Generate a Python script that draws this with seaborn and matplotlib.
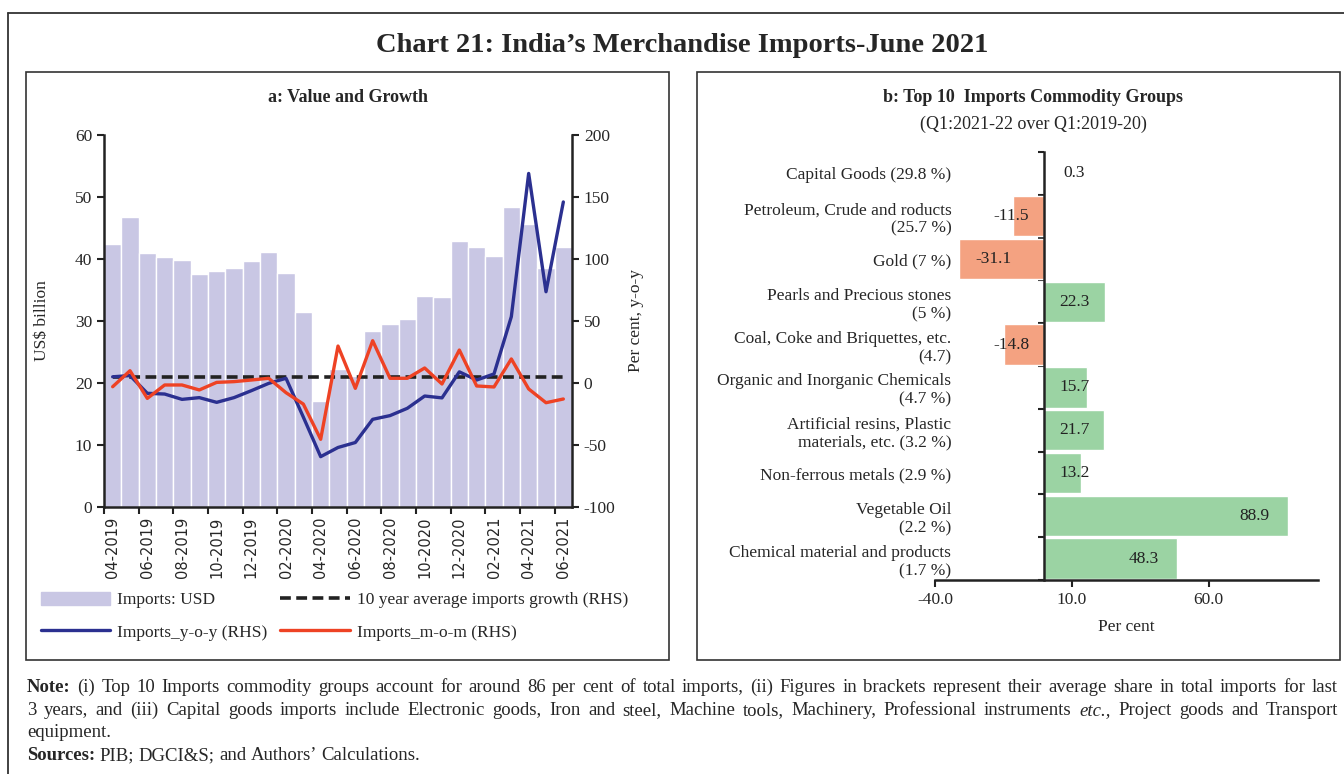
import numpy as np
import pandas as pd
import matplotlib.pyplot as plt
import matplotlib.patches as mpatches
import matplotlib.lines as mlines
import seaborn as sns

# ---- data: panel a (monthly imports) ----
months = ['04-2019', '05-2019', '06-2019', '07-2019', '08-2019', '09-2019', '10-2019',
          '11-2019', '12-2019', '01-2020', '02-2020', '03-2020', '04-2020', '05-2020',
          '06-2020', '07-2020', '08-2020', '09-2020', '10-2020', '11-2020', '12-2020',
          '01-2021', '02-2021', '03-2021', '04-2021', '05-2021', '06-2021']
imports_usd = [42.4, 46.7, 41.0, 40.4, 39.8, 37.6, 38.0, 38.5, 39.6, 41.1, 37.8, 31.4, 17.1,
               22.3, 21.1, 28.4, 29.5, 30.3, 34.1, 33.8, 42.9, 41.9, 40.5, 48.4, 45.7, 38.5, 41.9]
yoy_growth = [5.0, 6.0, -8.3, -8.9, -13.2, -11.8, -15.6, -11.8, -6.2, -0.3, 3.8, -27.5, -59.4,
              -52.0, -48.0, -29.3, -26.3, -20.4, -10.5, -12.0, 9.0, 2.4, 7.3, 53.5, 169.0, 73.6, 146.0]
mom_growth = [-3.0, 9.9, -12.4, -1.6, -1.6, -5.6, 0.5, 1.1, 2.4, 3.8, -7.8, -17.0, -45.4,
              29.8, -4.3, 34.1, 3.8, 3.8, 12.1, -0.8, 26.6, -2.4, -3.2, 19.4, -4.8, -15.9, -12.9]
avg_growth = 5.0

# ---- data: panel b (top 10 commodity groups) ----
commodities = ['Capital Goods (29.8 %)',
               'Petroleum, Crude and roducts\n(25.7 %)',
               'Gold (7 %)',
               'Pearls and Precious stones\n(5 %)',
               'Coal, Coke and Briquettes, etc.\n(4.7)',
               'Organic and Inorganic Chemicals\n(4.7 %)',
               'Artificial resins, Plastic\nmaterials, etc. (3.2 %)',
               'Non-ferrous metals (2.9 %)',
               'Vegetable Oil\n(2.2 %)',
               'Chemical material and products\n(1.7 %)']
change_pct = [0.3, -11.5, -31.1, 22.3, -14.8, 15.7, 21.7, 13.2, 88.9, 48.3]
xticks_b = [-40.0, 10.0, 60.0]

lav = '#C9C7E4'
blue = '#2B3090'
red = '#EE4224'
salmon = '#F4A281'
green = '#9BD3A3'

sns.set_theme(style='ticks')
plt.rcParams['font.family'] = ['Liberation Serif', 'DejaVu Serif']
plt.rcParams['axes.unicode_minus'] = False

W, H = 1344, 774
fig = plt.figure(figsize=(W / 100, H / 100), dpi=100)


def fx(x):
    return x / W


def fy(y):
    return 1 - y / H


# frames
fig.add_artist(mlines.Line2D([fx(8), fx(8)], [fy(13), 0], color='#333333', lw=1.3))
fig.add_artist(mlines.Line2D([fx(8), 1], [fy(13), fy(13)], color='#333333', lw=1.3))
for x0, x1 in [(26, 669), (697, 1340)]:
    fig.add_artist(mpatches.Rectangle((fx(x0), fy(660)), fx(x1) - fx(x0), fy(72) - fy(660),
                                      fill=False, ec='#333333', lw=1.2))

fig.text(fx(682), fy(46), 'Chart 21: India\u2019s Merchandise Imports-June 2021',
         ha='center', va='center', fontsize=20.5, fontweight='bold')

# ---------- panel a ----------
df_a = pd.DataFrame({'month': months, 'usd': imports_usd, 'yoy': yoy_growth, 'mom': mom_growth})
df_a['pos'] = np.arange(len(df_a))
df_a['avg'] = avg_growth
n = len(df_a)

ax = fig.add_axes([fx(104), fy(507), fx(572) - fx(104), fy(135) - fy(507)])
sns.barplot(data=df_a, x='month', y='usd', color=lav, saturation=1, width=1,
            edgecolor='white', linewidth=1, ax=ax)
ax.set_ylim(0, 60)
ax.set_yticks(range(0, 61, 10))
ax.set_xlim(-0.5, n - 0.5)
ax.set_xticks(df_a['pos'][::2])
ax.set_xticklabels(df_a['month'][::2], rotation=90, fontsize=10.5, family='DejaVu Sans')
ax.set_xticks(np.arange(-0.5, n - 1, 2), minor=True)
ax.tick_params(axis='x', which='major', length=0, pad=7)
ax.tick_params(axis='x', which='minor', length=5, width=1.5, color='#222222')
ax.tick_params(axis='y', labelsize=12.5, length=5, width=1.5, color='#222222')
ax.set_xlabel('')
ax.set_ylabel('US$ billion', fontsize=12.5)
ax.yaxis.set_label_coords(-0.115, 0.5)
ax.spines['top'].set_visible(False)
ax.spines['right'].set_visible(False)
for s in ['left', 'bottom']:
    ax.spines[s].set_linewidth(1.8)
    ax.spines[s].set_color('#222222')

ax2 = ax.twinx()
sns.lineplot(data=df_a, x='pos', y='avg', color='#222222', lw=2.6, linestyle=(0, (3, 1.5)), ax=ax2)
sns.lineplot(data=df_a, x='pos', y='yoy', color=blue, lw=2.4, ax=ax2)
sns.lineplot(data=df_a, x='pos', y='mom', color=red, lw=2.4, ax=ax2)
ax2.set_xlim(-0.5, n - 0.5)
ax2.set_ylim(-100, 200)
ax2.set_yticks(range(-100, 201, 50))
ax2.tick_params(axis='y', labelsize=12.5, length=5, width=1.5, color='#222222')
ax2.set_ylabel('Per cent, y-o-y', fontsize=12.5)
ax2.yaxis.set_label_coords(1.12, 0.5)
ax2.set_xlabel('')
for s in ['top', 'left', 'bottom']:
    ax2.spines[s].set_visible(False)
ax2.spines['right'].set_linewidth(1.8)
ax2.spines['right'].set_color('#222222')

fig.text(fx(348), fy(98), 'a: Value and Growth', ha='center', va='center',
         fontsize=13, fontweight='bold')

handles = [mpatches.Patch(color=lav),
           mlines.Line2D([], [], color=blue, lw=2.4),
           mlines.Line2D([], [], color='#222222', lw=2.6, linestyle=(0, (3, 1.5))),
           mlines.Line2D([], [], color=red, lw=2.4)]
labels = ['Imports: USD', 'Imports_y-o-y (RHS)',
          '10 year average imports growth (RHS)', 'Imports_m-o-m (RHS)']
fig.legend(handles, labels, ncol=2, loc='upper left', bbox_to_anchor=(fx(25), fy(576)),
           frameon=False, fontsize=12.5, handlelength=4.0, handleheight=0.8,
           columnspacing=0.75, labelspacing=0.9, handletextpad=0.4)

# ---------- panel b ----------
df_b = pd.DataFrame({'group': commodities, 'change': change_pct})
df_b['sign'] = np.where(df_b['change'] < 0, 'neg', 'pos')

axb = fig.add_axes([fx(935), fy(580), fx(1318) - fx(935), fy(152) - fy(580)])
sns.barplot(data=df_b, x='change', y='group', hue='sign', palette={'neg': salmon, 'pos': green},
            dodge=False, width=0.94, saturation=1, legend=False, orient='h', ax=axb)
axb.set_xlim(-40, 100)
axb.set_ylim(len(df_b) - 0.5, -0.5)
axb.set_xticks(xticks_b)
axb.set_xticklabels([f'{t:.1f}' for t in xticks_b], fontsize=12.5)
axb.spines['left'].set_position(('data', 0))
for s in ['top', 'right']:
    axb.spines[s].set_visible(False)
for s in ['left', 'bottom']:
    axb.spines[s].set_linewidth(1.8)
    axb.spines[s].set_color('#222222')
axb.set_yticks(np.arange(-0.5, len(df_b), 1), minor=True)
axb.tick_params(axis='y', which='major', length=0, pad=67, labelsize=12.5)
axb.tick_params(axis='y', which='minor', length=4, width=1.5, color='#222222')
axb.tick_params(axis='x', length=5, width=1.5, color='#222222')
axb.set_ylabel('')
axb.set_xlabel('Per cent', fontsize=12.5, labelpad=8)

for i, v in enumerate(df_b['change']):
    xpos = max(v - 12, 11) if v >= 0 else min(v * 0.6, -12)
    axb.text(xpos, i, f'{v}', ha='center', va='center', fontsize=12.5, color='#222222')

fig.text(fx(1033), fy(98), 'b: Top 10  Imports Commodity Groups', ha='center', va='center',
         fontsize=13, fontweight='bold')
fig.text(fx(1033), fy(124), '(Q1:2021-22 over Q1:2019-20)', ha='center', va='center',
         fontsize=13)

# ---------- notes (justified) ----------
note_lines = [
    ([('Note:', 'b')] + [(w, 'n') for w in ('(i) Top 10 Imports commodity groups account for around 86 per cent '
                                            'of total imports, (ii) Figures in brackets represent their average '
                                            'share in total imports for last').split()], True, 692),
    ([(w, 'n') for w in ('3 years, and (iii) Capital goods imports include Electronic goods, Iron and steel, '
                         'Machine tools, Machinery, Professional instruments').split()]
     + [('etc.,', 'i')] + [(w, 'n') for w in 'Project goods and Transport'.split()], True, 715),
    ([('equipment.', 'n')], False, 737),
    ([('Sources:', 'b')] + [(w, 'n') for w in 'PIB; DGCI&S; and Authors\u2019 Calculations.'.split()], False, 760),
]
renderer = fig.canvas.get_renderer()
for tokens, justify, yb in note_lines:
    texts = []
    for word, style in tokens:
        texts.append(fig.text(0, fy(yb), word, va='baseline', ha='left', fontsize=13.5,
                              fontweight='bold' if style == 'b' else 'normal',
                              fontstyle='italic' if style == 'i' else 'normal'))
    widths = [t.get_window_extent(renderer).width for t in texts]
    if justify and len(texts) > 1:
        gap = (1338 - 27 - sum(widths)) / (len(texts) - 1)
    else:
        gap = 4.5
    x = 27
    for t, w in zip(texts, widths):
        t.set_x(fx(x))
        x += w + gap

fig.savefig('out.png', dpi=100)
